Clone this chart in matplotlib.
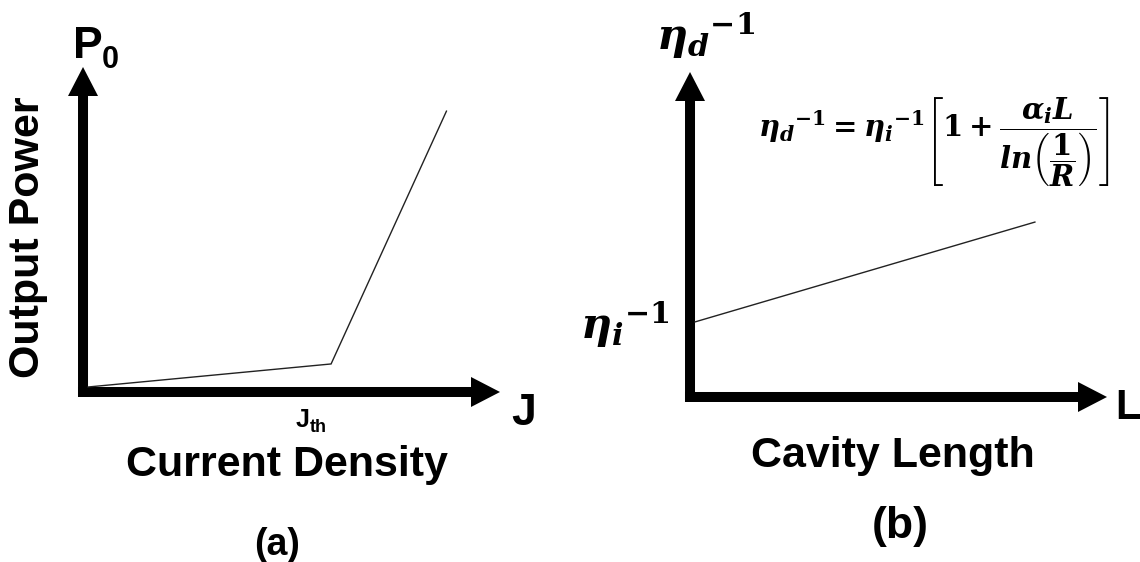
import matplotlib
matplotlib.use("Agg")
import matplotlib.pyplot as plt
from matplotlib.patches import FancyArrowPatch, ArrowStyle

# ---- data -------------------------------------------------------------
# (a) light output vs. current density: spontaneous region, threshold, lasing
current_density = [0.0, 0.59, 0.87]
output_power = [0.0, 0.072, 0.862]

# (b) inverse differential efficiency vs. cavity length
cavity_length = [0.0, 0.825]
inv_diff_eff = [0.219, 0.531]

W, H = 1140, 562
plt.rcParams["font.family"] = ["Liberation Sans", "DejaVu Sans"]
plt.rcParams["mathtext.fontset"] = "custom"
plt.rcParams["mathtext.it"] = "DejaVu Serif:italic:bold"
plt.rcParams["mathtext.rm"] = "DejaVu Serif:bold"
plt.rcParams["mathtext.bf"] = "DejaVu Serif:bold"

fig = plt.figure(figsize=(W / 100, H / 100), dpi=100)


def fx(x):
    return x / W


def fy(y):
    return 1 - y / H


def panel(left, bottom, width, height):
    ax = fig.add_axes([fx(left), fy(bottom), width / W, height / H])
    ax.set_xlim(0, 1)
    ax.set_ylim(0, 1)
    ax.axis("off")
    return ax


def axis_arrow(ax, start, end):
    style = ArrowStyle.Simple(head_length=29, head_width=30, tail_width=10)
    arr = FancyArrowPatch(start, end, transform=ax.transData, arrowstyle=style,
                          mutation_scale=0.72, shrinkA=0, shrinkB=0,
                          lw=0, fc="black", ec="none", clip_on=False)
    ax.add_patch(arr)


# ---- panel (a) ----------------------------------------------------------
axA = panel(88, 387, 412, 320)
axis_arrow(axA, (-0.0243, -0.0156), (1.0, -0.0156))
axis_arrow(axA, (-0.0121, -0.03125), (-0.0121, 1.0))
axA.plot(current_density, output_power, color="#222222", lw=1.0,
         solid_joinstyle="miter", clip_on=False)

fig.text(fx(73), fy(58), "P", fontsize=32, fontweight="bold", va="baseline")
fig.text(fx(102), fy(68), "0", fontsize=22, fontweight="bold", va="baseline")
fig.text(fx(28), fy(237), "Output Power", fontsize=31, fontweight="bold",
         rotation=90, ha="center", va="center", rotation_mode="anchor")
fig.text(fx(511), fy(425), "J", fontsize=32, fontweight="bold", va="baseline")
fig.text(fx(296), fy(427), "J", fontsize=18, fontweight="bold", va="baseline")
fig.text(fx(310), fy(432), "th", fontsize=13, fontweight="bold", va="baseline")
fig.text(fx(287), fy(476), "Current Density", fontsize=31, fontweight="bold",
         ha="center", va="baseline")
fig.text(fx(277), fy(555), "(a)", fontsize=27, fontweight="bold",
         ha="center", va="baseline")

# ---- panel (b) ----------------------------------------------------------
axB = panel(695, 392, 412, 320)
axis_arrow(axB, (-0.0121, -0.03125), (-0.0121, 1.0))
axis_arrow(axB, (-0.0243, -0.0156), (1.0, -0.0156))
axB.plot(cavity_length, inv_diff_eff, color="#222222", lw=1.0, clip_on=False)

fig.text(fx(656), fy(50), r"${\eta_d}^{-1}$", fontsize=31, va="baseline")
fig.text(fx(580), fy(339), r"${\eta_i}^{-1}$", fontsize=31, va="baseline")
fig.text(fx(758), fy(142),
         r"${\eta_d}^{-1} = {\eta_i}^{-1}\left[1+\dfrac{\alpha_i L}"
         r"{ln\left(\dfrac{1}{R}\right)}\right]$",
         fontsize=21, va="center")
fig.text(fx(1115), fy(419), "L", fontsize=30, fontweight="bold", va="baseline")
fig.text(fx(893), fy(467), "Cavity Length", fontsize=31, fontweight="bold",
         ha="center", va="baseline")
fig.text(fx(900), fy(538), "(b)", fontsize=32, fontweight="bold",
         ha="center", va="baseline")

fig.savefig("out.png", dpi=100, facecolor="white")
